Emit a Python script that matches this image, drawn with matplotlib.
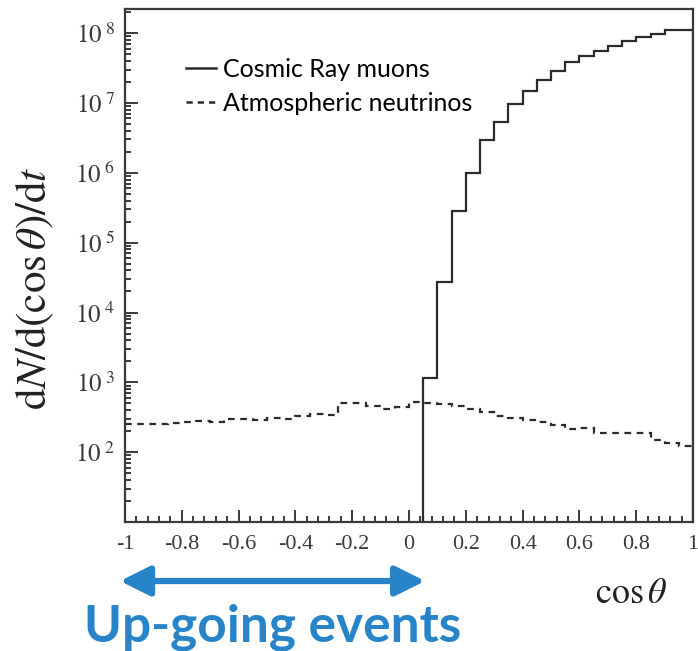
import numpy as np
import matplotlib.pyplot as plt
from matplotlib.lines import Line2D
from matplotlib.ticker import LogLocator, MultipleLocator, NullFormatter

plt.rcParams['mathtext.fontset'] = 'stix'

# cosmic ray muons, bins of 0.05 in cos(theta)
muon_edges = [0.05, 0.10, 0.15, 0.20, 0.25, 0.30, 0.35, 0.40, 0.45, 0.50,
              0.55, 0.60, 0.65, 0.70, 0.75, 0.80, 0.85, 0.90, 0.95, 1.00]
muon_counts = [1.15e3, 2.75e4, 2.8e5, 1.0e6, 2.95e6, 5.4e6, 9.8e6, 1.5e7, 2.1e7,
               2.9e7, 3.8e7, 4.7e7, 5.5e7, 6.6e7, 7.8e7, 8.7e7, 9.8e7, 1.1e8, 1.1e8]

# atmospheric neutrinos, 40 bins from -1 to 1
nu_edges = np.round(np.arange(-1.0, 1.0001, 0.05), 2)
nu_counts = [251, 257, 251, 263, 269, 282, 275, 295, 302, 288,
             309, 302, 331, 355, 339, 501, 501, 457, 417, 447,
             525, 501, 490, 457, 417, 380, 331, 309, 288, 275,
             245, 214, 224, 191, 186, 186, 186, 151, 135, 123]

xtick_vals = [-1, -0.8, -0.6, -0.4, -0.2, 0, 0.2, 0.4, 0.6, 0.8, 1]
xtick_labels = ['-1', '-0.8', '-0.6', '-0.4', '-0.2', '0', '0.2', '0.4', '0.6', '0.8', '1']
ytick_vals = [1e2, 1e3, 1e4, 1e5, 1e6, 1e7, 1e8]
ytick_labels = [r'$10^{\ 2}$', r'$10^{\ 3}$', r'$10^{\ 4}$', r'$10^{\ 5}$',
                r'$10^{\ 6}$', r'$10^{\ 7}$', r'$10^{\ 8}$']

line_col = '#2b2b2b'
blue = '#2884c8'

fig = plt.figure(figsize=(6.98, 6.51), dpi=100)
ax = fig.add_axes([0.179, 0.198, 0.814, 0.788])

ax.stairs(muon_counts, muon_edges, baseline=10, color=line_col, lw=1.6)
ax.stairs(nu_counts, nu_edges, baseline=None, color=line_col, lw=1.6,
          linestyle=(0, (3, 2.5)))

ax.set_yscale('log')
ax.set_xlim(-1, 1)
ax.set_ylim(10, 2.2e8)

ax.set_xticks(xtick_vals, xtick_labels)
ax.xaxis.set_minor_locator(MultipleLocator(0.04))
ax.set_yticks(ytick_vals, ytick_labels)
ax.yaxis.set_minor_locator(LogLocator(base=10, subs=np.arange(2, 10)))
ax.yaxis.set_minor_formatter(NullFormatter())

ax.tick_params(which='both', direction='in', top=False, right=False,
               color=line_col, width=1.3)
ax.tick_params(axis='x', which='major', length=9, labelsize=16,
               labelcolor='#3a3a3a', pad=9)
ax.tick_params(axis='y', which='major', length=9, labelsize=18,
               labelcolor='#3a3a3a', pad=7)
ax.tick_params(which='minor', length=4.5)
for lab in ax.get_xticklabels() + ax.get_yticklabels():
    lab.set_fontfamily('Liberation Serif')
for sp in ax.spines.values():
    sp.set_color('#3a3a3a')
    sp.set_linewidth(1.6)

handles = [Line2D([], [], color=line_col, lw=1.8),
           Line2D([], [], color=line_col, lw=1.8, linestyle=(0, (2.5, 2)))]
ax.legend(handles, ['Cosmic Ray muons', 'Atmospheric neutrinos'],
          loc='upper left', bbox_to_anchor=(0.108, 0.905), frameon=False,
          handlelength=1.2, handletextpad=0.25, labelspacing=0.45,
          borderaxespad=0, borderpad=0,
          prop={'family': 'Lato', 'size': 18})

fig.text(0.05, 0.558, r'$\mathrm{d}N/\mathrm{d}(\cos\theta)/\mathrm{d}t$',
         rotation=90, ha='center', va='center', fontsize=31, color='#222222')
fig.text(0.904, 0.089, r'$\cos\theta$', ha='center', va='center',
         fontsize=26, color='#222222')

ax.annotate('', xy=(0.172, 0.1075), xytext=(0.609, 0.1075),
            xycoords='figure fraction', textcoords='figure fraction',
            arrowprops=dict(arrowstyle='<|-|>,head_length=1.0,head_width=0.5',
                            mutation_scale=18, lw=4.5, color=blue,
                            shrinkA=0, shrinkB=0),
            annotation_clip=False)
fig.text(0.39, 0.014, 'Up-going events', ha='center', va='baseline',
         fontsize=37, fontweight='bold', family='Lato', color=blue)

fig.savefig('out.png', dpi=100)
